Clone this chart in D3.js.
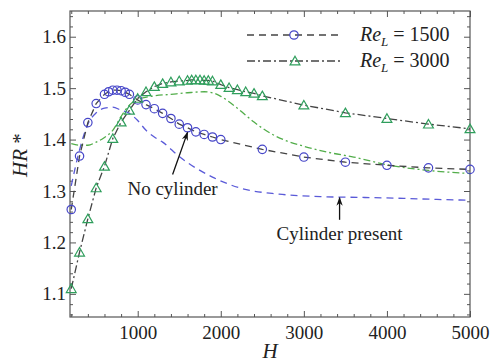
<!DOCTYPE html>
<html>
<head>
<meta charset="utf-8">
<script src="https://cdnjs.cloudflare.com/ajax/libs/d3/7.8.5/d3.min.js"></script>
<style>
  body { margin: 0; background: #fff; }
  svg { display: block; }
  .axis path { display: none; }
  .axis line { stroke: #555; stroke-width: 1; }
</style>
</head>
<body>
<script>
// Re_L = 1500, no cylinder (circles)
var H_re1500  = [200, 300, 400, 500, 600, 650, 700, 750, 800, 850, 900, 1000, 1100, 1200, 1300, 1400, 1500, 1600, 1700, 1800, 1900, 2000, 2500, 3000, 3500, 4000, 4500, 5000];
var HR_re1500 = [1.264, 1.368, 1.433, 1.470, 1.488, 1.493, 1.496, 1.496, 1.495, 1.492, 1.488, 1.477, 1.468, 1.460, 1.451, 1.441, 1.430, 1.423, 1.415, 1.410, 1.405, 1.400, 1.381, 1.366, 1.356, 1.350, 1.345, 1.342];

// Re_L = 3000, no cylinder (triangles)
var H_re3000  = [200, 300, 400, 500, 600, 700, 800, 900, 1000, 1100, 1200, 1300, 1400, 1500, 1600, 1650, 1700, 1750, 1800, 1850, 1900, 2000, 2100, 2200, 2300, 2400, 2500, 3000, 3500, 4000, 4500, 5000];
var HR_re3000 = [1.110, 1.181, 1.246, 1.306, 1.348, 1.402, 1.434, 1.457, 1.480, 1.493, 1.503, 1.509, 1.512, 1.514, 1.515, 1.516, 1.516, 1.516, 1.515, 1.515, 1.514, 1.507, 1.501, 1.497, 1.493, 1.490, 1.485, 1.467, 1.452, 1.441, 1.430, 1.421];

// cylinder present
var H_cyl1500  = [200, 300, 400, 500, 600, 700, 800, 900, 1000, 1100, 1200, 1300, 1500, 1900, 2250, 2700, 3200, 3700, 4200, 4600, 5000];
var HR_cyl1500 = [1.31, 1.38, 1.43, 1.452, 1.461, 1.463, 1.457, 1.451, 1.437, 1.418, 1.405, 1.395, 1.367, 1.327, 1.305, 1.294, 1.289, 1.2875, 1.2856, 1.2836, 1.282];

var H_cyl3000  = [200, 300, 400, 500, 600, 700, 800, 900, 1000, 1200, 1400, 1600, 1800, 1900, 2000, 2200, 2400, 2600, 2800, 3000, 3300, 3600, 4000, 4500, 5000];
var HR_cyl3000 = [1.392, 1.389, 1.389, 1.395, 1.404, 1.418, 1.445, 1.467, 1.478, 1.485, 1.488, 1.491, 1.493, 1.491, 1.484, 1.461, 1.434, 1.412, 1.397, 1.387, 1.375, 1.366, 1.351, 1.340, 1.334];

var xTicks = [1000, 2000, 3000, 4000, 5000];
var yTicks = [1.1, 1.2, 1.3, 1.4, 1.5, 1.6];

var FONT = "'Liberation Serif', 'Times New Roman', Times, serif";
var W = 490, Hgt = 364;
var m = {left: 70, top: 11, right: 20, bottom: 47};
var w = W - m.left - m.right, h = Hgt - m.top - m.bottom;

var svg = d3.select("body").append("svg")
    .attr("width", W)
    .attr("height", Hgt)
    .attr("font-family", FONT);

var defs = svg.append("defs");
defs.append("marker")
    .attr("id", "arr")
    .attr("viewBox", "0 0 10 10")
    .attr("refX", 9).attr("refY", 5)
    .attr("markerWidth", 9).attr("markerHeight", 9)
    .attr("markerUnits", "userSpaceOnUse")
    .attr("orient", "auto")
    .append("path")
    .attr("d", "M0,1.5 L10,5 L0,8.5 L3,5 Z")
    .attr("fill", "#111");

var g = svg.append("g").attr("transform", "translate(" + m.left + "," + m.top + ")");

var x = d3.scaleLinear().domain([185, 5000]).range([0, w]);
var y = d3.scaleLinear().domain([1.055, 1.65]).range([h, 0]);

var minorX = d3.range(200, 5000, 200).filter(function(d) { return d % 1000 != 0; });
var minorY = d3.range(1.06, 1.65, 0.02).filter(function(d) { return Math.abs(d * 10 - Math.round(d * 10)) > 0.01; });

// minor ticks, all four sides
g.append("g").attr("class", "axis").attr("transform", "translate(0," + h + ")")
  .call(d3.axisBottom(x).tickValues(minorX).tickSize(-3).tickFormat(""));
g.append("g").attr("class", "axis")
  .call(d3.axisTop(x).tickValues(minorX).tickSize(-3).tickFormat(""));
g.append("g").attr("class", "axis")
  .call(d3.axisLeft(y).tickValues(minorY).tickSize(-3).tickFormat(""));
g.append("g").attr("class", "axis").attr("transform", "translate(" + w + ",0)")
  .call(d3.axisRight(y).tickValues(minorY).tickSize(-3).tickFormat(""));

// major ticks
var xb = g.append("g").attr("class", "axis").attr("transform", "translate(0," + h + ")")
  .call(d3.axisBottom(x).tickValues(xTicks).tickSize(-6).tickPadding(9).tickFormat(d3.format("d")));
g.append("g").attr("class", "axis")
  .call(d3.axisTop(x).tickValues(xTicks).tickSize(-6).tickFormat(""));
var yl_ax = g.append("g").attr("class", "axis")
  .call(d3.axisLeft(y).tickValues(yTicks).tickSize(-6).tickPadding(4).tickFormat(d3.format(".1f")));
g.append("g").attr("class", "axis").attr("transform", "translate(" + w + ",0)")
  .call(d3.axisRight(y).tickValues(yTicks).tickSize(-6).tickFormat(""));

[xb, yl_ax].forEach(function(a) {
  a.attr("font-family", FONT).attr("font-size", 19);
  a.selectAll("text").attr("fill", "#222");
});

g.append("rect")
  .attr("width", w).attr("height", h)
  .attr("fill", "none").attr("stroke", "#555").attr("stroke-width", 1.2);

function pts(hs, vs) {
  return hs.map(function(d, i) { return [d, vs[i]]; });
}

var line = d3.line()
    .x(function(d) { return x(d[0]); })
    .y(function(d) { return y(d[1]); });
var smooth = d3.line()
    .x(function(d) { return x(d[0]); })
    .y(function(d) { return y(d[1]); })
    .curve(d3.curveMonotoneX);

var plot = g.append("g");

// cylinder present curves
plot.append("path").datum(pts(H_cyl1500, HR_cyl1500))
  .attr("d", smooth).attr("fill", "none")
  .attr("stroke", "#5a5ad8").attr("stroke-width", 1.3).attr("stroke-dasharray", "7,5");
plot.append("path").datum(pts(H_cyl3000, HR_cyl3000))
  .attr("d", smooth).attr("fill", "none")
  .attr("stroke", "#52ad4a").attr("stroke-width", 1.3).attr("stroke-dasharray", "7,3,2,3");

// no cylinder curves
var d1500 = pts(H_re1500, HR_re1500), d3000 = pts(H_re3000, HR_re3000);
plot.append("path").datum(d1500)
  .attr("d", line).attr("fill", "none")
  .attr("stroke", "#444").attr("stroke-width", 1.3).attr("stroke-dasharray", "7,5");
plot.append("path").datum(d3000)
  .attr("d", line).attr("fill", "none")
  .attr("stroke", "#444").attr("stroke-width", 1.3).attr("stroke-dasharray", "8,3,2,3");

var tri = d3.symbol().type(d3.symbolTriangle).size(42);

plot.selectAll(".circ").data(d1500).enter().append("circle")
  .attr("class", "circ")
  .attr("cx", function(d) { return x(d[0]); })
  .attr("cy", function(d) { return y(d[1]); })
  .attr("r", 4.2)
  .attr("fill", "none").attr("stroke", "#4646c8").attr("stroke-width", 1.2);

plot.selectAll(".tri").data(d3000).enter().append("path")
  .attr("class", "tri")
  .attr("transform", function(d) { return "translate(" + x(d[0]) + "," + (y(d[1]) + 1) + ")"; })
  .attr("d", tri)
  .attr("fill", "none").attr("stroke", "#2f9e5c").attr("stroke-width", 1.2);

// annotations
g.append("line")
  .attr("x1", x(1420)).attr("y1", y(1.332))
  .attr("x2", x(1600)).attr("y2", y(1.414))
  .attr("stroke", "#111").attr("stroke-width", 1.3).attr("marker-end", "url(#arr)");
g.append("text")
  .attr("x", x(1420)).attr("y", y(1.293))
  .attr("text-anchor", "middle").attr("font-size", 19).attr("fill", "#222")
  .text("No cylinder");

g.append("line")
  .attr("x1", x(3430)).attr("y1", y(1.244))
  .attr("x2", x(3430)).attr("y2", y(1.287))
  .attr("stroke", "#111").attr("stroke-width", 1.3).attr("marker-end", "url(#arr)");
g.append("text")
  .attr("x", x(3430)).attr("y", y(1.205))
  .attr("text-anchor", "middle").attr("font-size", 19).attr("fill", "#222")
  .text("Cylinder present");

// legend
var legend = [
  {label: "1500", dash: "7,5", sym: "circle", ly: 35},
  {label: "3000", dash: "8,3,2,3", sym: "tri", ly: 61}
];
var lg = svg.append("g");
legend.forEach(function(d) {
  lg.append("line")
    .attr("x1", 247).attr("x2", 342).attr("y1", d.ly).attr("y2", d.ly)
    .attr("stroke", "#444").attr("stroke-width", 1.3).attr("stroke-dasharray", d.dash);
  if (d.sym == "circle") {
    lg.append("circle").attr("cx", 294).attr("cy", d.ly).attr("r", 4.2)
      .attr("fill", "none").attr("stroke", "#4646c8").attr("stroke-width", 1.2);
  } else {
    lg.append("path").attr("transform", "translate(295," + (d.ly + 1) + ")").attr("d", tri)
      .attr("fill", "none").attr("stroke", "#2f9e5c").attr("stroke-width", 1.2);
  }
  var t = lg.append("text").attr("x", 360).attr("y", d.ly + 6)
    .attr("font-size", 20).attr("fill", "#222");
  t.append("tspan").attr("font-style", "italic").text("Re");
  t.append("tspan").attr("font-style", "italic").attr("font-size", 13).attr("dy", 5).text("L");
  t.append("tspan").attr("dy", -5).text(" = " + d.label);
});

// axis titles
svg.append("text")
  .attr("x", m.left + w / 2).attr("y", 358)
  .attr("text-anchor", "middle").attr("font-size", 21).attr("font-style", "italic").attr("fill", "#222")
  .text("H");

var yl = svg.append("text")
  .attr("transform", "translate(27,155) rotate(-90)")
  .attr("text-anchor", "middle").attr("font-size", 21).attr("fill", "#222");
yl.append("tspan").attr("font-style", "italic").text("HR");
yl.append("tspan").text(" *");
</script>
</body>
</html>
